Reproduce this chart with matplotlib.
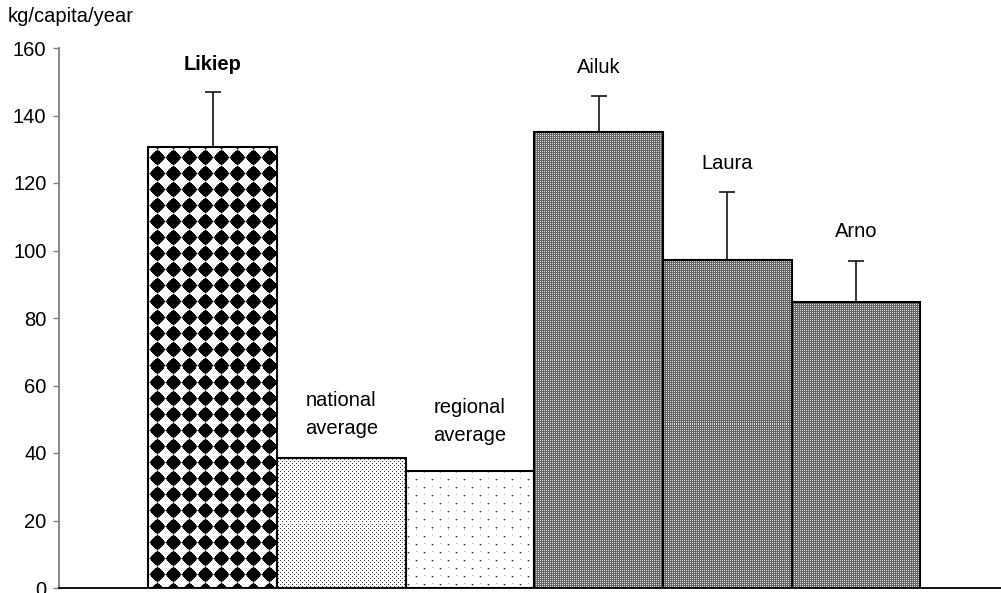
import numpy as np
import matplotlib
matplotlib.use("Agg")
import matplotlib.pyplot as plt

# Per-capita amounts (kg/capita/year) with upper error bars
categories = ["Likiep", "national\naverage", "regional\naverage", "Ailuk", "Laura", "Arno"]
values = [130.7, 38.6, 34.8, 135.2, 97.3, 84.6]
errors = [16.3, 0.0, 0.0, 10.6, 20.0, 12.3]
y_ticks = [0, 20, 40, 60, 80, 100, 120, 140, 160]

label_bold = [True, False, False, False, False, False]
label_offset_px = [27, 43, 49, 28, 29, 29]
patterns = ["diamond", "fine_dots", "sparse_dots", "mesh", "mesh", "mesh"]

W, H, DPI = 1001, 593, 100
FONT = "Liberation Sans"
FS = 14.5

fig = plt.figure(figsize=(W / DPI, H / DPI), dpi=DPI)
ax = fig.add_axes([59 / W, 5 / H, (W - 59) / W, 540 / H])

x = np.arange(len(categories))
bar_w = 1.0
x_left, x_right = -1.193, 6.127
ax.set_xlim(x_left, x_right)
ax.set_ylim(0, 160)


def texture(kind, px, py):
    """Return an RGB texture for absolute pixel coordinates px (cols), py (rows from top)."""
    X, Y = np.meshgrid(px, py)
    img = np.ones(X.shape + (3,))
    if kind == "diamond":
        u = ((X - 5) % 16) - 8.0
        v = ((Y - 6) % 16) - 8.0
        d = (np.abs(u) ** 1.2 + np.abs(v) ** 1.2) ** (1 / 1.2)
        img[d <= 7.4] = 0.0
        img[(d > 7.4) & (d <= 8.0)] = 0.55
    elif kind == "fine_dots":
        m = ((X % 4 == 0) & (Y % 4 == 0)) | ((X % 4 == 2) & (Y % 4 == 2))
        img[m] = 0.25
    elif kind == "sparse_dots":
        row = Y // 8
        xs = (X + (row % 2) * 8) % 16
        ys = Y % 8
        core = (ys == 0) & (xs == 0)
        halo = ((ys == 0) & ((xs == 1) | (xs == 15))) | (((ys == 1) | (ys == 7)) & (xs == 0))
        img[halo] = 0.7
        img[core] = 0.2
    elif kind == "mesh":
        img[:] = 0.40
        m = (X % 2 == 0) & (Y % 2 == 0)
        img[m] = 0.85
    return img


bars = ax.bar(x, values, width=bar_w, facecolor="none", edgecolor="black",
              linewidth=1.5, zorder=3)

for bar, kind in zip(bars, patterns):
    left = bar.get_x()
    right = left + bar.get_width()
    top = bar.get_height()
    (dx0, dy0) = ax.transData.transform((left, 0))
    (dx1, dy1) = ax.transData.transform((right, top))
    w = max(int(round(dx1 - dx0)), 1)
    h = max(int(round(dy1 - dy0)), 1)
    col0 = int(round(dx0))
    row0 = int(round(H - dy1))
    img = texture(kind, col0 + np.arange(w), row0 + np.arange(h))
    im = ax.imshow(img, extent=(left, right, 0, top), origin="upper",
                   interpolation="nearest", aspect="auto", zorder=1)
    im.set_clip_path(bar)

ax.set_xlim(x_left, x_right)
ax.set_ylim(0, 160)

# Upper error bars only
ax.errorbar(x, values, yerr=[np.zeros(len(errors)), errors], fmt="none",
            ecolor="black", elinewidth=1.1, capsize=5.5, capthick=1.1, zorder=2)

# Category labels above each bar
for xi, v, e, lab, bold, off in zip(x, values, errors, categories, label_bold, label_offset_px):
    ax.annotate(lab, xy=(xi, v + e), xytext=(0, off), textcoords="offset pixels",
                ha="center", va="center", fontsize=FS, family=FONT,
                fontweight="bold" if bold else "normal", linespacing=1.6,
                zorder=4)

# Axes styling
ax.set_yticks(y_ticks)
ax.set_yticklabels([str(t) for t in y_ticks], family=FONT, fontsize=FS)
ax.set_xticks([])
for s in ["top", "right"]:
    ax.spines[s].set_visible(False)
ax.spines["left"].set_color("#808080")
ax.spines["left"].set_linewidth(1.3)
ax.spines["bottom"].set_color("black")
ax.spines["bottom"].set_linewidth(1.3)
ax.tick_params(axis="y", direction="out", length=4, width=1.0, color="#808080",
               pad=5, labelcolor="black")
ax.patch.set_visible(False)

fig.text(8 / W, 1 - 17 / H, "kg/capita/year", ha="left", va="center",
         family=FONT, fontsize=FS)

fig.savefig("out.png", dpi=DPI)
